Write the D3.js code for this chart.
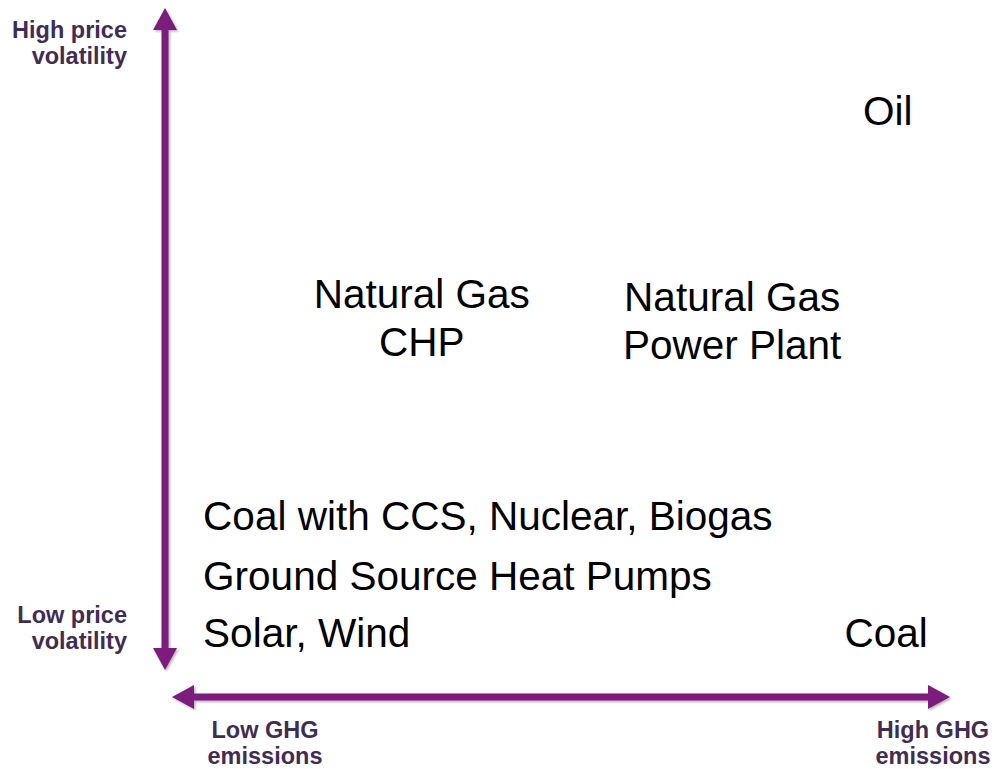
<!DOCTYPE html>
<html>
<head>
<meta charset="utf-8">
<script src="https://cdn.jsdelivr.net/npm/d3@7"></script>
<style>
  body { margin: 0; background: #fff; }
  svg { display: block; }
</style>
</head>
<body>
<div id="chart"></div>
<script>
// positions of each technology on the two qualitative axes (0 = low, 10 = high)
const labels = [
  ["Oil"],
  ["Natural Gas", "CHP"],
  ["Natural Gas", "Power Plant"],
  ["Coal with CCS, Nuclear, Biogas"],
  ["Ground Source Heat Pumps"],
  ["Solar, Wind"],
  ["Coal"]
];
const emissions = [9.2, 3.21, 7.2, 0.4, 0.4, 0.4, 9.18];
const volatility = [8.23, 5.47, 5.42, 2.11, 1.21, 0.35, 0.35];
const anchors = ["middle", "middle", "middle", "start", "start", "start", "middle"];

const axisLabels = {
  yHigh: ["High price", "volatility"],
  yLow: ["Low price", "volatility"],
  xLow: ["Low GHG", "emissions"],
  xHigh: ["High GHG", "emissions"]
};

const width = 997, height = 769;
const arrowColor = "#7b1b7c";
const labelColor = "#3f2d53";

const svg = d3.select("#chart")
  .append("svg")
  .attr("width", width)
  .attr("height", height);

const x = d3.scaleLinear().domain([0, 10]).range([172, 950]);
const y = d3.scaleLinear().domain([0, 10]).range([670, 8]);

// soft shadow under the arrows
const defs = svg.append("defs");
const f = defs.append("filter").attr("id", "shadow")
  .attr("x", "-10%").attr("y", "-10%").attr("width", "120%").attr("height", "120%");
f.append("feDropShadow")
  .attr("dx", 1.5).attr("dy", 1.5).attr("stdDeviation", 1.2)
  .attr("flood-color", "#000").attr("flood-opacity", 0.3);

// double-headed arrow as a polygon
function arrowPath(x0, y0, x1, y1) {
  const len = Math.hypot(x1 - x0, y1 - y0);
  const hw = 3.5, head = 22, hh = 12;
  const pts = [
    [0, 0], [head, -hh], [head, -hw], [len - head, -hw], [len - head, -hh],
    [len, 0], [len - head, hh], [len - head, hw], [head, hw], [head, hh]
  ];
  const a = Math.atan2(y1 - y0, x1 - x0);
  return "M" + pts.map(p => [
    x0 + p[0] * Math.cos(a) - p[1] * Math.sin(a),
    y0 + p[0] * Math.sin(a) + p[1] * Math.cos(a)
  ].join(",")).join("L") + "Z";
}

const yAxisX = 165, xAxisY = 697;

svg.append("path")
  .attr("d", arrowPath(yAxisX, y(10), yAxisX, y(0)))
  .attr("fill", arrowColor)
  .attr("filter", "url(#shadow)");

svg.append("path")
  .attr("d", arrowPath(x(0), xAxisY, x(10), xAxisY))
  .attr("fill", arrowColor)
  .attr("filter", "url(#shadow)");

// axis end labels
function axisLabel(lines, px, py, anchor) {
  const t = svg.append("text")
    .attr("x", px).attr("y", py)
    .attr("text-anchor", anchor)
    .style("font", "bold 23.5px 'Liberation Sans', Arial, sans-serif")
    .style("fill", labelColor);
  lines.forEach((l, i) => {
    t.append("tspan").attr("x", px).attr("dy", i === 0 ? 0 : 26).text(l);
  });
}
axisLabel(axisLabels.yHigh, 127, 38, "end");
axisLabel(axisLabels.yLow, 127, 623, "end");
axisLabel(axisLabels.xLow, 265, 738, "middle");
axisLabel(axisLabels.xHigh, 933, 738, "middle");

// technology labels
svg.append("g").selectAll("text")
  .data(labels)
  .enter().append("text")
  .attr("x", (d, i) => x(emissions[i]))
  .attr("y", (d, i) => y(volatility[i]))
  .attr("text-anchor", (d, i) => anchors[i])
  .style("font", "40.5px 'Liberation Sans', Arial, sans-serif")
  .style("fill", "#000")
  .each(function (d, i) {
    const t = d3.select(this);
    d.forEach((line, j) => {
      t.append("tspan")
        .attr("x", x(emissions[i]))
        .attr("dy", j === 0 ? 0 : 48)
        .text(line);
    });
  });
</script>
</body>
</html>
